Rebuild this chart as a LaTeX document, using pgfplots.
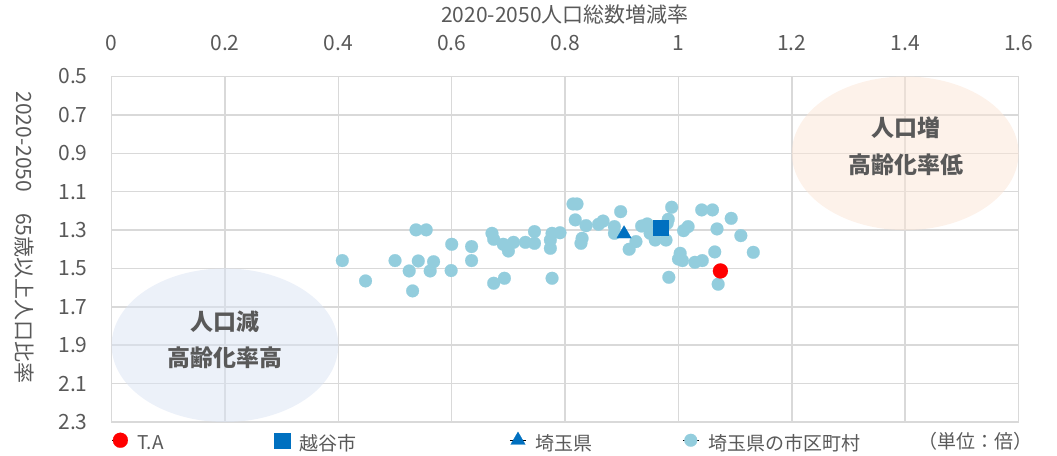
\documentclass[border=0pt]{standalone}
\usepackage{fontspec}
\setmainfont{Noto Sans CJK JP}
\usepackage{pgfplots}
\pgfplotsset{compat=1.18}
\definecolor{txt}{HTML}{595959}
\definecolor{gridc}{HTML}{D9D9D9}
\definecolor{ptblue}{HTML}{93CDDD}
\definecolor{darkblue}{HTML}{0070C0}
\definecolor{ellblue}{HTML}{DAE3F3}
\definecolor{ellorange}{HTML}{FBE5D6}
\newcommand{\lbl}{\fontsize{10.5}{12}\selectfont}
\newcommand{\lgd}{\fontsize{9.5}{11}\selectfont}
\begin{document}
\begin{tikzpicture}
\begin{axis}[
  at={(0,0)}, anchor=south west,
  scale only axis, width=453.5pt, height=172.75pt,
  xmin=0, xmax=1.6, ymin=0.5, ymax=2.3, y dir=reverse,
  xtick={0,0.2,0.4,0.6,0.8,1,1.2,1.4,1.6},
  xticklabels={0,0.2,0.4,0.6,0.8,1,1.2,1.4,1.6},
  ytick={0.5,0.7,0.9,1.1,1.3,1.5,1.7,1.9,2.1,2.3},
  yticklabels={0.5,0.7,0.9,1.1,1.3,1.5,1.7,1.9,2.1,2.3},
  /pgf/number format/assume math mode=true,
  xticklabel pos=right,
  grid=major, grid style={gridc, line width=0.75pt},
  axis line style={gridc, line width=0.75pt},
  major tick length=0pt,
  tick label style={font=\lbl, text=txt},
  xticklabel style={anchor=base, yshift=13.25pt},
  yticklabel style={anchor=east, xshift=-8.5pt},
  legend columns=4, reverse legend,
  legend style={at={(axis description cs:0,0)}, anchor=west, yshift=-9.5pt,
    draw=none, fill=none, inner sep=0pt, /tikz/column sep=0pt,
    font=\lgd, nodes={inner sep=0pt, text=txt}},
  legend image code/.code={\path (0pt,0pt) rectangle (8pt,8pt);
    \draw[mark repeat=2,mark phase=2,#1] plot coordinates {(0pt,2pt)(4pt,2pt)(8pt,2pt)};},
]
\fill[ellblue, fill opacity=0.5] (axis cs:0.2,1.9) ellipse [x radius=56.67pt, y radius=38.4pt];
\fill[ellorange, fill opacity=0.5] (axis cs:1.4,0.9) ellipse [x radius=56.67pt, y radius=38.4pt];
\node[font=\bfseries\fontsize{11.5}{13}\selectfont, text=txt] at (axis cs:0.2,1.779) {人口減};
\node[font=\bfseries\fontsize{11.5}{13}\selectfont, text=txt] at (axis cs:0.2,1.966) {高齢化率高};
\node[font=\bfseries\fontsize{11.5}{13}\selectfont, text=txt] at (axis cs:1.402,0.768) {人口増};
\node[font=\bfseries\fontsize{11.5}{13}\selectfont, text=txt] at (axis cs:1.402,0.961) {高齢化率低};

\addplot[draw=none, mark=*, mark size=3.2pt, mark options={draw=ptblue, fill=ptblue, line width=0.1pt}] coordinates {
(0.407,1.459) (0.448,1.565) (0.500,1.459) (0.525,1.513) (0.531,1.617)
(0.537,1.299) (0.541,1.461) (0.555,1.299) (0.562,1.513) (0.568,1.465)
(0.600,1.374) (0.599,1.511) (0.635,1.386) (0.635,1.459) (0.671,1.317)
(0.674,1.348) (0.691,1.374) (0.700,1.409) (0.709,1.364) (0.674,1.577)
(0.693,1.551) (0.730,1.364) (0.746,1.308) (0.746,1.369) (0.774,1.352)
(0.777,1.317) (0.791,1.314) (0.774,1.395) (0.777,1.551) (0.814,1.164)
(0.821,1.164) (0.818,1.247) (0.837,1.277) (0.830,1.343) (0.828,1.369)
(0.859,1.270) (0.867,1.253) (0.898,1.204) (0.887,1.282) (0.887,1.317)
(0.925,1.360) (0.913,1.400) (0.935,1.279) (0.945,1.268) (0.950,1.317)
(0.959,1.352) (0.978,1.352) (0.988,1.181) (0.982,1.244) (0.980,1.265)
(1.041,1.195) (1.060,1.195) (1.093,1.239) (1.009,1.303) (1.017,1.282)
(1.068,1.294) (1.110,1.329) (1.003,1.421) (1.000,1.451) (1.007,1.459)
(1.029,1.468) (1.042,1.459) (1.064,1.414) (1.132,1.416) (0.983,1.546)
(1.070,1.582)
};
\addlegendentry{\hspace{4.5pt}埼玉県の市区町村}
\addplot[draw=none, mark=triangle*, mark size=4.2pt, mark options={draw=darkblue, fill=darkblue, line width=0.1pt}] coordinates {(0.904,1.32)};
\addlegendentry{\hspace{4.5pt}\makebox[73.5pt][l]{埼玉県}}
\addplot[draw=none, mark=square*, mark size=3.8pt, mark options={draw=darkblue, fill=darkblue, line width=0.1pt}] coordinates {(0.968,1.288)};
\addlegendentry{\hspace{4.5pt}\makebox[105pt][l]{越谷市}}
\addplot[draw=none, mark=*, mark size=3.75pt, mark options={draw=red, fill=red, line width=0.1pt}] coordinates {(1.074,1.513)};
\addlegendentry{\hspace{4.5pt}\makebox[68pt][l]{T.A}}
\end{axis}
\node[font=\lbl, text=txt] at (226.7pt,203.5pt) {2020-2050人口総数増減率};
\node[font=\lbl, text=txt, rotate=-90] at (-43.8pt,92.25pt) {2020-2050　65歳以上人口比率};
\node[font=\lgd, text=txt, anchor=east] at (464.2pt,-9.5pt) {（単位：倍）};
\pgfresetboundingbox
\path[use as bounding box] (-55.8pt,-17pt) rectangle (472.7pt,211pt);
\end{tikzpicture}
\end{document}
